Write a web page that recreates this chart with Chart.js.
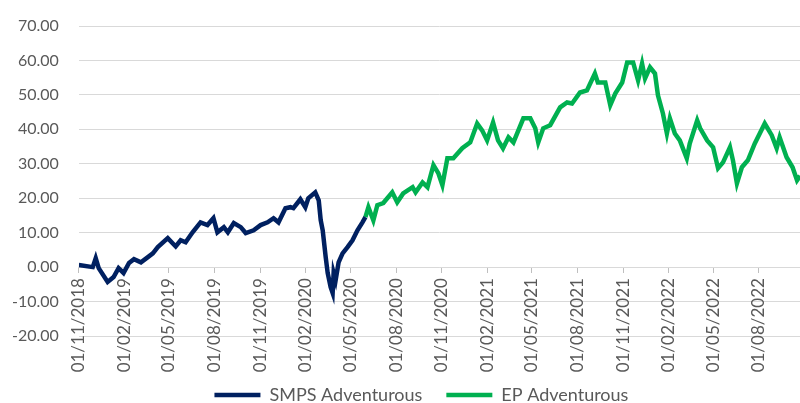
<!DOCTYPE html>
<html lang="en">
<head>
<meta charset="UTF-8">
<title>SMPS vs EP Adventurous</title>
<script src="https://cdn.jsdelivr.net/npm/chart.js"></script>
<style>
  html, body { margin: 0; padding: 0; background: #fff; }
  .graph { position: relative; width: 800px; height: 403px; }
</style>
</head>
<body>
<div class="graph"><canvas id="myChart"></canvas></div>

<script>
// x values are days counted from 01/11/2018
const tickLabels = ['01/11/2018', '01/02/2019', '01/05/2019', '01/08/2019', '01/11/2019',
    '01/02/2020', '01/05/2020', '01/08/2020', '01/11/2020', '01/02/2021', '01/05/2021',
    '01/08/2021', '01/11/2021', '01/02/2022', '01/05/2022', '01/08/2022'];

const smpsDays = [0, 28, 34, 40, 58, 70, 80, 90, 101, 111,
    125, 139, 149, 159, 179, 195, 205, 215, 229, 245,
    259, 271, 279, 292, 300, 312, 326, 336, 352, 366,
    380, 392, 402, 416, 426, 432, 446, 456, 462, 476,
    483, 487, 491, 497, 501, 507, 511, 513, 517, 523,
    531, 541, 551, 561, 571, 577];
const smpsValues = [0.6, 0, 2.6, -0.3, -4.3, -2.9, -0.3, -1.7, 1.2, 2.3,
    1.4, 2.9, 4, 5.8, 8.4, 6, 7.8, 7.2, 10.1, 13,
    12.2, 14.2, 10.1, 11.6, 10.1, 12.8, 11.6, 9.9, 10.7, 12.2,
    13, 14.2, 13, 17.1, 17.4, 17.1, 19.7, 17.4, 20, 21.7,
    19.4, 13.6, 10.7, 2.9, -1.7, -5.8, -7.5, -1.7, -3.8, 1.4,
    4, 5.8, 7.8, 10.7, 13, 14.5];

const epDays = [577, 583, 593, 601, 613, 631, 641, 653, 672, 678,
    692, 702, 714, 724, 732, 742, 754, 772, 788, 802,
    812, 822, 834, 844, 854, 865, 875, 895, 909, 919,
    925, 935, 949, 969, 983, 993, 1009, 1023, 1039, 1045,
    1060, 1070, 1080, 1094, 1104, 1116, 1126, 1134, 1140, 1150,
    1160, 1166, 1176, 1184, 1190, 1200, 1210, 1224, 1230, 1245,
    1251, 1265, 1277, 1287, 1297, 1311, 1317, 1325, 1335, 1347,
    1361, 1381, 1395, 1405, 1411, 1425, 1437, 1446, 1452];
const epValues = [14.5, 17.4, 13.6, 18, 18.6, 21.7, 18.8, 21.4, 23.2, 21.7,
    24.6, 23.2, 29.6, 27.2, 23.8, 31.6, 31.6, 34.5, 36.2, 41.7,
    39.7, 36.8, 42, 36.8, 34.5, 37.7, 36.2, 43.2, 43.2, 40.3,
    36.2, 40.3, 41.2, 46.4, 47.8, 47.5, 50.7, 51.3, 56.2, 53.6,
    53.6, 47, 50.4, 53.6, 59.4, 59.4, 54.2, 59.1, 54.8, 58,
    56.2, 49.9, 44.6, 38.8, 43.2, 38.8, 36.8, 31.6, 35.9, 42.6,
    40.3, 36.8, 34.8, 28.7, 30.4, 34.8, 31, 24.3, 29, 31,
    35.9, 41.7, 38.3, 34.5, 37.7, 31.9, 29, 25.2, 26.5];

const fonte = 'Lato, Carlito, sans-serif';
const cinza = '#595959';

// converte "dd/mm/aaaa" em dias desde 01/11/2018
function diasDesde(label) {
    const [d, m, a] = label.split('/').map(Number);
    return (Date.UTC(a, m - 1, d) - Date.UTC(2018, 10, 1)) / 86400000;
}
const tickDays = tickLabels.map(diasDesde);

function pontos(dias, valores) {
    return dias.map((d, i) => ({ x: d, y: valores[i] }));
}

// empurra a legenda um pouco para a esquerda, como no original
const moverLegenda = {
    id: 'moverLegenda',
    afterLayout: chart => { chart.legend.left -= 36; }
};

const ctx = document.getElementById('myChart').getContext('2d');
new Chart(ctx, {
    type: 'line',
    data: {
        datasets: [{
            label: 'SMPS Adventurous',
            data: pontos(smpsDays, smpsValues),
            borderColor: '#002060',
            backgroundColor: '#002060',
            borderWidth: 4.5,
            pointRadius: 0,
            tension: 0
        }, {
            label: 'EP Adventurous',
            data: pontos(epDays, epValues),
            borderColor: '#00B050',
            backgroundColor: '#00B050',
            borderWidth: 4.5,
            pointRadius: 0,
            tension: 0
        }]
    },
    plugins: [moverLegenda],
    options: {
        responsive: true,
        maintainAspectRatio: false,
        animation: false,
        layout: { padding: { left: -8, right: 0, top: 26, bottom: -11 } },
        plugins: {
            legend: {
                position: 'bottom',
                fullSize: false,
                // titulo vazio so para afastar a legenda do grafico
                title: { display: true, text: ' ', font: { size: 10 }, padding: { top: 14, bottom: 0 } },
                labels: {
                    usePointStyle: true,
                    pointStyle: 'line',
                    pointStyleWidth: 46,
                    padding: 24,
                    color: cinza,
                    font: { family: fonte, size: 18 }
                }
            },
            tooltip: { enabled: false }
        },
        scales: {
            x: {
                type: 'linear',
                min: 0,
                max: 1452,
                position: { y: 0 },
                afterBuildTicks: scale => {
                    scale.ticks = tickDays.map(v => ({ value: v }));
                },
                grid: { drawOnChartArea: false, color: '#BFBFBF', tickLength: 5 },
                border: { color: '#D9D9D9' },
                ticks: {
                    autoSkip: false,
                    minRotation: 90,
                    maxRotation: 90,
                    padding: 6,
                    color: cinza,
                    font: { family: fonte, size: 17 },
                    callback: (v, i) => tickLabels[i]
                }
            },
            y: {
                min: -20,
                max: 70,
                // o padding dos ticks nao deve empurrar o topo do grafico
                afterFit: scale => { scale.paddingTop = 10; scale.paddingBottom = 10; },
                grid: { color: '#D9D9D9', drawTicks: false },
                border: { display: false },
                ticks: {
                    stepSize: 10,
                    padding: 20,
                    color: cinza,
                    font: { family: fonte, size: 16 },
                    callback: v => v.toFixed(2)
                }
            }
        }
    }
});
</script>
</body>
</html>
